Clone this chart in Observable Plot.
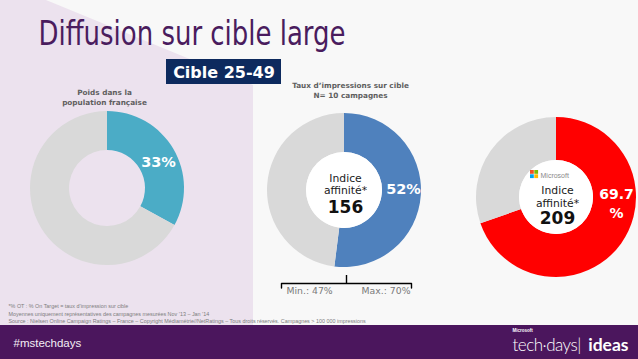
<!DOCTYPE html>
<html><head><meta charset="utf-8">
<script src="https://cdn.jsdelivr.net/npm/d3@7"></script>
<script src="https://cdn.jsdelivr.net/npm/@observablehq/plot@0.6"></script>
<style>html,body{margin:0;padding:0;background:#fff;overflow:hidden}
g.brA text{letter-spacing:-0.5px}</style>
</head><body><div id="chart"></div>
<script>
// ---- data ----
const title = "Diffusion sur cible large";
const targetLabel = "Cible 25-49";
const donutTitles = ["Poids dans la\npopulation française", "Taux d’impressions sur cible\nN= 10 campagnes", ""];
const shares = [33, 52, 69.7];
const shareLabels = ["33%", "52%", "69.7\n%"];
const affinityLabel = "Indice\naffinité*";
const affinity = ["", "156", "209"];
const rangeLabels = ["Min.: 47%", "Max.: 70%"];
const footnotes = [
  "*% OT : % On Target = taux d’impression sur cible",
  "Moyennes uniquement représentatives des campagnes mesurées Nov ’13 – Jan ’14",
  "Source : Nielsen Online Campaign Ratings – France – Copyright Médiamétrie//NetRatings – Tous droits réservés. Campagnes > 100 000 impressions"
];
const hashtag = "#mstechdays";
const brandA = "tech·days|";
const brandB = "ideas";

// ---- layout / style ----
const colors = ["#4bacc6", "#4f81bd", "#ff0000"];
const restColor = "#d9d9d9";
const centers = [[107, 188], [344, 190], [556, 197]];
const rOut = [77, 77, 80];
const rIn = [38, 38, 37];
const VERD = "DejaVu Sans, Verdana, sans-serif";

const donutMark = (i) => (index, {x, y}) => {
  const g = d3.create("svg:g")
    .attr("transform", `translate(${x(centers[i][0])},${y(centers[i][1])})`);
  const arcs = d3.pie().sort(null).value(d => d.v)([
    {v: shares[i], c: colors[i]},
    {v: 100 - shares[i], c: restColor}
  ]);
  g.selectAll("path").data(arcs).join("path")
    .attr("d", d3.arc().innerRadius(rIn[i]).outerRadius(rOut[i]))
    .attr("fill", d => d.data.c);
  if (i > 0) g.append("circle").attr("r", rIn[i]).attr("fill", "#ffffff");
  return g.node();
};

const txt = (t, o) => Plot.text([t], {text: d => d, lineAnchor: "bottom", ...o});

const chart = Plot.plot({
  width: 638, height: 359, margin: 0,
  x: {domain: [0, 638], range: [0, 638], axis: null},
  y: {domain: [0, 359], range: [0, 359], axis: null},
  style: {background: "#f8f8f8", overflow: "hidden"},
  marks: [
    // lavender panel
    Plot.areaY([{x: 0, t: 0}, {x: 46, t: 0}, {x: 253, t: 85}], {x: "x", y1: "t", y2: 325, fill: "#ece2ee"}),
    // footer bar
    Plot.rect([0], {x1: 0, x2: 638, y1: 325, y2: 359, fill: "#4b165d"}),
    // title
    txt(title, {x: 38, y: 44, textAnchor: "start", fontSize: 33, fill: "#4a1c5e", fontFamily: "Liberation Sans Narrow, DejaVu Sans Condensed, sans-serif", className: "ttl"}),
    // target box
    Plot.rect([0], {x1: 166, x2: 281, y1: 59, y2: 84, fill: "#0d2a5e"}),
    txt(targetLabel, {x: 223.5, y: 77.5, fontSize: 16, fontWeight: "bold", fill: "#ffffff", fontFamily: VERD}),
    // donut titles
    txt(donutTitles[0], {x: 104, y: 104, fontSize: 7.3, fontWeight: "bold", fill: "#5f5f5f", fontFamily: VERD, lineHeight: 1.35}),
    txt(donutTitles[1], {x: 350, y: 97, fontSize: 7.3, fontWeight: "bold", fill: "#5f5f5f", fontFamily: VERD, lineHeight: 1.35}),
    // donuts
    donutMark(0), donutMark(1), donutMark(2),
    // share labels
    txt(shareLabels[0], {x: 158, y: 166, fontSize: 14.5, fontWeight: "bold", fill: "#ffffff", fontFamily: VERD}),
    txt(shareLabels[1], {x: 403, y: 193.5, fontSize: 14.5, fontWeight: "bold", fill: "#ffffff", fontFamily: VERD}),
    txt(shareLabels[2], {x: 616, y: 217, fontSize: 14, fontWeight: "bold", fill: "#ffffff", fontFamily: VERD, lineHeight: 1.3}),
    // affinity labels
    txt(affinityLabel, {x: 345, y: 193, fontSize: 10.8, fill: "#1a1a1a", fontFamily: VERD, lineHeight: 1.1}),
    txt(affinity[1], {x: 345, y: 212.5, fontSize: 17, fontWeight: "bold", fill: "#111111", fontFamily: VERD}),
    txt(affinityLabel, {x: 557, y: 206, fontSize: 10.8, fill: "#1a1a1a", fontFamily: VERD, lineHeight: 1.15}),
    txt(affinity[2], {x: 557, y: 223.5, fontSize: 17, fontWeight: "bold", fill: "#111111", fontFamily: VERD}),
    // Microsoft logo
    Plot.rect([
      {x: 530, y: 170, c: "#f25022"}, {x: 534.3, y: 170, c: "#7fba00"},
      {x: 530, y: 174.3, c: "#00a4ef"}, {x: 534.3, y: 174.3, c: "#ffb900"}
    ], {x1: "x", x2: d => d.x + 3.8, y1: "y", y2: d => d.y + 3.8, fill: "c"}),
    txt("Microsoft", {x: 540, y: 177.5, textAnchor: "start", fontSize: 7, fill: "#8a8a8a", fontFamily: "Liberation Sans, sans-serif"}),
    // range brace
    Plot.line([[281, 287.5], [281, 283], [411, 283], [411, 287.5]], {x: d => d[0], y: d => d[1], stroke: "#000", strokeWidth: 1.4}),
    Plot.ruleX([346], {y1: 275, y2: 283, stroke: "#000", strokeWidth: 1.4}),
    txt(rangeLabels[0], {x: 286, y: 293.5, textAnchor: "start", fontSize: 9.3, fill: "#7a7a7a", fontFamily: VERD}),
    txt(rangeLabels[1], {x: 410, y: 293.5, textAnchor: "end", fontSize: 9.3, fill: "#7a7a7a", fontFamily: VERD}),
    // footnotes
    Plot.text(footnotes, {x: 8, y: (d, i) => 307.5 + i * 7.6, text: d => d, textAnchor: "start", lineAnchor: "bottom", fontSize: 5.4, fill: "#7d7d7d", fontFamily: "Liberation Sans, sans-serif"}),
    // footer texts
    txt(hashtag, {x: 13, y: 346, textAnchor: "start", fontSize: 11.5, fill: "#f3eef5", fontFamily: "Liberation Sans Narrow, Liberation Sans, sans-serif"}),
    txt("Microsoft", {x: 512, y: 331.5, textAnchor: "start", fontSize: 4.5, fontWeight: "bold", fill: "#ffffff", fontFamily: "Liberation Sans, sans-serif"}),
    txt(brandA, {x: 512, y: 350, textAnchor: "start", fontSize: 17, fontWeight: 300, fill: "#ffffff", fontFamily: "Lato, Open Sans, sans-serif", className: "brA"}),
    txt(brandB, {x: 628, y: 350, textAnchor: "end", fontSize: 17.5, fontWeight: "bold", fill: "#ffffff", fontFamily: "Liberation Sans Narrow, Lato, sans-serif", className: "brB"})
  ]
});
document.getElementById("chart").appendChild(chart);
// fit the condensed title to its measured width
const t = chart.querySelector("g.ttl text");
if (t) { t.setAttribute("textLength", 307); t.setAttribute("lengthAdjust", "spacingAndGlyphs"); }
</script>
</body></html>
